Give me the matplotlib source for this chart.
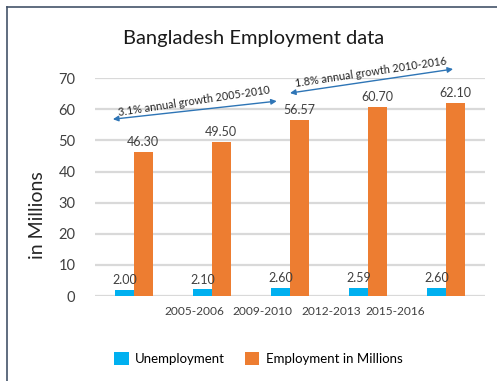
import matplotlib
matplotlib.use("Agg")
from matplotlib import pyplot as plt
from matplotlib.lines import Line2D
import numpy as np

plt.rcParams['font.family'] = ['Lato', 'DejaVu Sans']

unemployment = [2.00, 2.10, 2.60, 2.59, 2.60]
employment = [46.30, 49.50, 56.57, 60.70, 62.10]
period_labels = ["2005-2006", "2009-2010", "2012-2013", "2015-2016"]
growth_notes = ["3.1% annual growth 2005-2010", "1.8% annual growth 2010-2016"]

blue = "#00B0F0"
orange = "#ED7D31"

fig = plt.figure(figsize=(4.97, 3.81), dpi=100)
ax = fig.add_axes([0.191, 0.223, 0.785, 0.572])

x = np.arange(len(employment))
w = 0.24
b1 = ax.bar(x - w / 2, unemployment, w, color=blue, label="Unemployment", zorder=3)
b2 = ax.bar(x + w / 2, employment, w, color=orange, label="Employment in Millions", zorder=3)

for rect, v in zip(b1, unemployment):
    ax.text(rect.get_x() + rect.get_width() / 2, v + 1.2, "%.2f" % v,
            ha="center", va="bottom", fontsize=9, color="#404040")
for rect, v in zip(b2, employment):
    ax.text(rect.get_x() + rect.get_width() / 2, v + 1.2, "%.2f" % v,
            ha="center", va="bottom", fontsize=9, color="#404040")

ax.set_xlim(-0.5, 4.5)
ax.set_ylim(0, 70)
ax.set_yticks(range(0, 71, 10))
ax.set_xticks([0.78, 1.65, 2.53, 3.35])
ax.set_xticklabels(period_labels, fontsize=8.6, color="#404040")
ax.tick_params(axis="both", length=0, labelsize=10.5, colors="#404040")
ax.tick_params(axis="y", pad=14)
ax.tick_params(axis="x", pad=7)
for lbl in ax.get_xticklabels():
    lbl.set_fontsize(8.6)
ax.yaxis.grid(True, color="#D9D9D9", linewidth=1.6, zorder=0)
for s in ax.spines.values():
    s.set_visible(False)
ax.set_ylabel("in Millions", fontsize=14, color="#262626")
ax.yaxis.set_label_coords(-0.125, 0.37)

# growth arrows above the bars
arrows = [((-0.27, 56.8), (1.83, 62.6)), ((2.0, 65.2), (4.09, 72.9))]
for (p0, p1), note in zip(arrows, growth_notes):
    ax.annotate("", xy=p0, xytext=p1, annotation_clip=False,
                arrowprops=dict(arrowstyle="<|-|>", color="#2E75B6", lw=1,
                                mutation_scale=8, shrinkA=0, shrinkB=0))
    mx = (p0[0] + p1[0]) / 2
    my = (p0[1] + p1[1]) / 2
    ax.text(mx, my + 1.0, note, fontsize=7.8, color="#262626", ha="center",
            va="bottom", rotation=8.5, rotation_mode="anchor")

fig.text(0.51, 0.885, "Bangladesh Employment data", ha="center", fontsize=14.5,
         color="#1a1a1a")

fig.legend(loc="lower center", bbox_to_anchor=(0.52, 0.01), ncol=2, frameon=False,
           fontsize=9.5, handlelength=1.1, handleheight=1.1, columnspacing=1.5,
           handletextpad=0.5)

fig.add_artist(Line2D([7 / 497, 7 / 497], [0, 1 - 7 / 381], color="#44546A", lw=1.2))
fig.add_artist(Line2D([7 / 497, 1], [1 - 7 / 381, 1 - 7 / 381], color="#44546A", lw=1.2))

fig.savefig("out.png", dpi=100)
